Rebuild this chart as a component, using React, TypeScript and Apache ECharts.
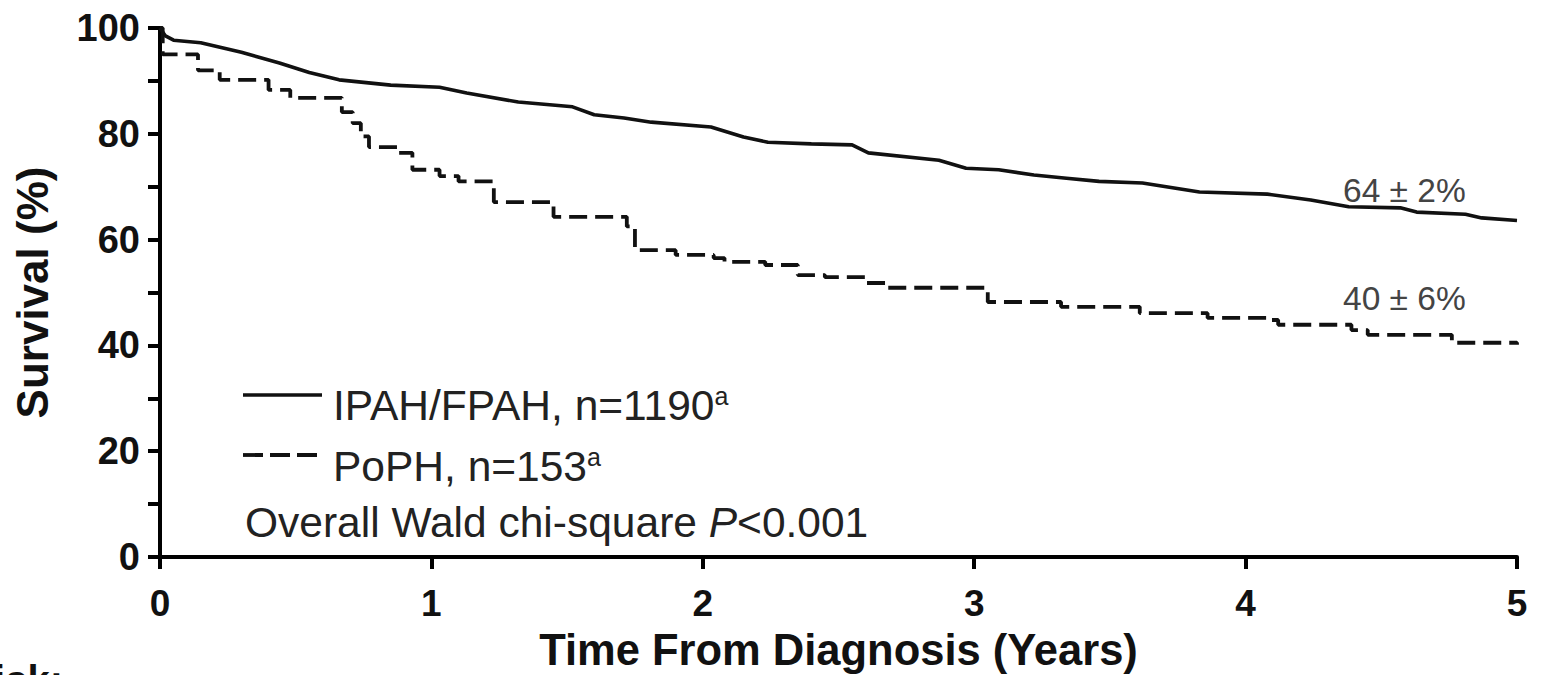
import React, { useEffect, useRef } from "react";
import * as echarts from "echarts";

// IPAH/FPAH (solid) Kaplan-Meier estimate: time (years) and survival (%)
const ipahTime = [0, 0.02, 0.05, 0.15, 0.3, 0.44, 0.55, 0.66, 0.85, 1.03, 1.13, 1.32, 1.52, 1.6, 1.71, 1.81, 2.03, 2.15, 2.24, 2.4, 2.55, 2.61, 2.87, 2.97, 3.09, 3.22, 3.34, 3.46, 3.62, 3.83, 4.08, 4.24, 4.38, 4.57, 4.63, 4.81, 4.87, 5.0];
const ipahSurv = [100, 98.5, 97.7, 97.2, 95.4, 93.4, 91.6, 90.2, 89.2, 88.8, 87.7, 86.0, 85.1, 83.6, 83.0, 82.2, 81.3, 79.4, 78.4, 78.1, 77.9, 76.4, 75.0, 73.5, 73.2, 72.2, 71.6, 71.0, 70.7, 69.0, 68.6, 67.5, 66.2, 66.0, 65.2, 64.8, 64.1, 63.6];

// PoPH (dashed) Kaplan-Meier estimate: step times (years) and survival (%)
const pophTime = [0, 0.01, 0.14, 0.22, 0.4, 0.48, 0.67, 0.71, 0.74, 0.77, 0.88, 0.93, 1.03, 1.1, 1.23, 1.45, 1.72, 1.75, 1.9, 2.04, 2.08, 2.23, 2.35, 2.45, 2.6, 2.68, 3.05, 3.32, 3.61, 3.86, 4.09, 4.12, 4.39, 4.45, 4.76, 5.0];
const pophSurv = [100, 95, 92, 90.2, 88.3, 86.8, 84.1, 82, 79.5, 77.5, 76.4, 73.2, 72, 71, 67.1, 64.3, 62.5, 58, 57.1, 56.5, 55.8, 55.2, 53.3, 52.9, 51.8, 50.9, 48.2, 47.3, 46.1, 45.2, 44.8, 43.9, 42.9, 42.0, 40.5, 40.1];

const xTicks = [0, 1, 2, 3, 4, 5];
const yLabelTicks = [0, 20, 40, 60, 80, 100];

const seriesNames = ["IPAH/FPAH, n=1190", "PoPH, n=153"];
const endLabels = ["64 ± 2%", "40 ± 6%"];

const FONT = "'Liberation Sans', Arial, Helvetica, sans-serif";

export default function App() {
  const ref = useRef<HTMLDivElement>(null);
  useEffect(() => {
    if (!ref.current) return;
    const chart = echarts.init(ref.current, undefined, { renderer: "svg" });
    const axisColor = "#000";
    const legendRich = {
      m: { fontFamily: FONT, fontSize: 42.5, fill: "#222", color: "#222" },
      s: { fontFamily: FONT, fontSize: 25, fill: "#222", color: "#222", verticalAlign: "top" },
    };
    const option: any = {
      animation: false,
      backgroundColor: "#fff",
      grid: { left: 160, right: 24, top: 28, bottom: 118, containLabel: false, outerBoundsMode: "none" },
      xAxis: {
        type: "value",
        min: xTicks[0],
        max: xTicks[xTicks.length - 1],
        interval: 1,
        name: "Time From Diagnosis (Years)",
        nameLocation: "middle",
        nameGap: 71,
        nameTextStyle: { fontFamily: FONT, fontWeight: "bold", fontSize: 43.5, color: "#111" },
        axisLine: { lineStyle: { color: axisColor, width: 4 } },
        axisTick: { length: 12, lineStyle: { color: axisColor, width: 4 } },
        axisLabel: { margin: 28, fontFamily: FONT, fontWeight: "bold", fontSize: 37, color: "#111" },
        splitLine: { show: false },
      },
      yAxis: {
        type: "value",
        min: 0,
        max: 100,
        interval: 10,
        name: "Survival (%)",
        nameLocation: "middle",
        nameRotate: 90,
        nameGap: 106,
        nameTextStyle: { fontFamily: FONT, fontWeight: "bold", fontSize: 44, color: "#111" },
        axisLine: { show: true, lineStyle: { color: axisColor, width: 4 } },
        axisTick: { length: 12, lineStyle: { color: axisColor, width: 4 } },
        axisLabel: {
          margin: 20,
          fontFamily: FONT,
          fontWeight: "bold",
          fontSize: 38,
          color: "#111",
          formatter: (v: number) => (yLabelTicks.indexOf(v) >= 0 ? String(v) : ""),
        },
        splitLine: { show: false },
      },
      series: [
        {
          name: seriesNames[0],
          type: "line",
          data: ipahTime.map((t, i) => [t, ipahSurv[i]]),
          showSymbol: false,
          lineStyle: { color: "#111", width: 3.6, type: "solid" },
          z: 3,
        },
        {
          name: seriesNames[1],
          type: "line",
          step: "end",
          data: pophTime.map((t, i) => [t, pophSurv[i]]),
          showSymbol: false,
          lineStyle: { color: "#111", width: 3.8, type: [18, 8] },
          z: 3,
        },
      ],
      graphic: [
        // legend
        { type: "line", shape: { x1: 243, y1: 395, x2: 322, y2: 395 }, style: { stroke: "#111", lineWidth: 3.6 } },
        { type: "text", x: 333, y: 405, style: { text: `{m|${seriesNames[0]}}{s|a}`, rich: legendRich, textVerticalAlign: "middle" } },
        { type: "line", shape: { x1: 243, y1: 455, x2: 322, y2: 455 }, style: { stroke: "#111", lineWidth: 3.8, lineDash: [20, 7] } },
        { type: "text", x: 333, y: 466, style: { text: `{m|${seriesNames[1]}}{s|a}`, rich: legendRich, textVerticalAlign: "middle" } },
        {
          type: "text",
          x: 245,
          y: 522,
          style: {
            text: "{n|Overall Wald chi-square }{i|P}{n|<0.001}",
            rich: {
              n: { fontFamily: FONT, fontSize: 42.5, fill: "#222", fontStyle: "normal" },
              i: { fontFamily: FONT, fontSize: 42.5, fill: "#222", fontStyle: "italic" },
            },
            textVerticalAlign: "middle",
          },
        },
        // end-of-curve estimates
        { type: "text", x: 1343, y: 190, style: { text: endLabels[0], font: `normal 33.5px ${FONT}`, fill: "#444", textVerticalAlign: "middle" } },
        { type: "text", x: 1343, y: 298, style: { text: endLabels[1], font: `normal 33.5px ${FONT}`, fill: "#444", textVerticalAlign: "middle" } },
        // cut-off "At risk:" label at bottom left
        { type: "text", x: 63, y: 660, style: { text: "At risk:", font: `bold 40px ${FONT}`, fill: "#111", textAlign: "right", textVerticalAlign: "top" } },
      ],
    };
    chart.setOption(option);
    return () => chart.dispose();
  }, []);
  return <div ref={ref} style={{ position: "fixed", left: 0, top: 0, width: 1541, height: 675 }} />;
}
